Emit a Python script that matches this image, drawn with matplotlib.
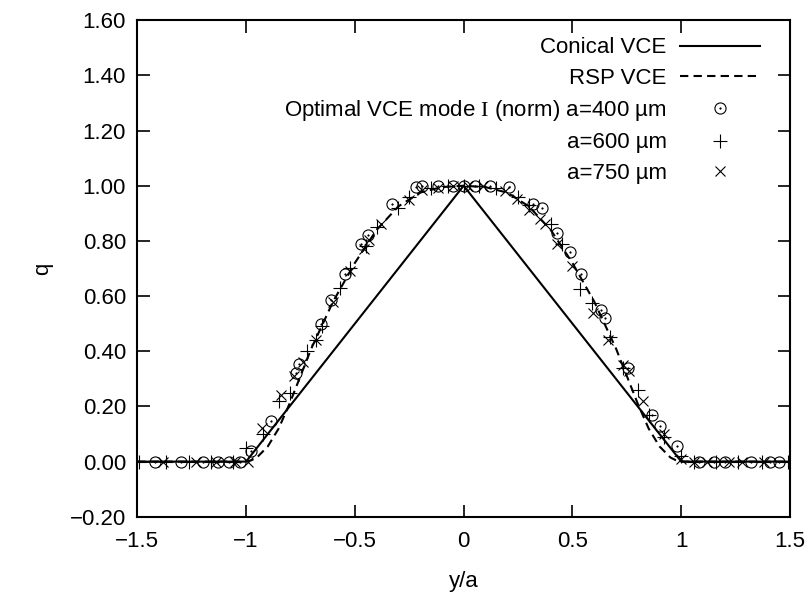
import matplotlib
matplotlib.use('Agg')
import matplotlib.pyplot as plt

plt.rcParams['font.family'] = ['Liberation Sans', 'DejaVu Sans']
plt.rcParams['mathtext.fontset'] = 'custom'
plt.rcParams['mathtext.rm'] = 'Liberation Serif'
plt.rcParams['axes.unicode_minus'] = True

# Conical VCE (triangle)
con_x = [-1.5, -1.0, 0.0, 1.0, 1.5]
con_q = [0.0, 0.0, 1.0, 0.0, 0.0]

# RSP VCE (dashed)
rsp_x = [-1.5, -1.0, -0.975, -0.95, -0.9, -0.85, -0.8, -0.75, -0.7, -0.6, -0.5, -0.4,
         -0.3, -0.2, -0.1, 0.0, 0.1, 0.2, 0.3, 0.4, 0.5, 0.6, 0.7, 0.75, 0.8, 0.85,
         0.9, 0.95, 0.975, 1.0, 1.5]
rsp_q = [0.0, 0.0, 0.005, 0.015, 0.055, 0.12, 0.21, 0.31, 0.41, 0.58, 0.72, 0.84,
         0.925, 0.975, 0.995, 1.0, 0.995, 0.975, 0.925, 0.84, 0.72, 0.58, 0.41, 0.31,
         0.21, 0.12, 0.055, 0.015, 0.005, 0.0, 0.0]

# Optimal VCE, a=400 um (circles)
a400_x = [-1.42, -1.30, -1.20, -1.13, -1.08, -1.03, -0.977, -0.885, -0.77, -0.756,
          -0.654, -0.61, -0.544, -0.47, -0.44, -0.33, -0.217, -0.19, -0.12, -0.05,
          0.0, 0.05, 0.12, 0.21, 0.32, 0.36, 0.43, 0.49, 0.54, 0.63, 0.65, 0.755,
          0.866, 0.90, 0.98, 1.08, 1.15, 1.20, 1.32, 1.41, 1.45]
a400_q = [0.0, 0.0, 0.0, 0.0, 0.0, 0.0, 0.04, 0.148, 0.32, 0.354,
          0.50, 0.585, 0.68, 0.79, 0.82, 0.935, 0.996, 1.0, 1.0, 1.0,
          1.0, 1.0, 1.0, 0.996, 0.935, 0.92, 0.83, 0.76, 0.68, 0.55, 0.52, 0.34,
          0.17, 0.13, 0.058, 0.0, 0.0, 0.0, 0.0, 0.0, 0.0]

# Optimal VCE, a=600 um (plus)
a600_x = [-1.49, -1.37, -1.26, -1.16, -1.06, -1.00, -0.92, -0.85, -0.80, -0.72,
          -0.68, -0.65, -0.57, -0.52, -0.45, -0.40, -0.30, -0.25, -0.15, -0.07,
          0.0, 0.07, 0.15, 0.25, 0.30, 0.40, 0.45, 0.535, 0.59, 0.673, 0.733,
          0.80, 0.85, 0.92, 1.00, 1.06, 1.16, 1.26, 1.37, 1.49]
a600_q = [0.0, 0.0, 0.0, 0.0, 0.0, 0.05, 0.10, 0.22, 0.25, 0.40,
          0.44, 0.49, 0.63, 0.70, 0.78, 0.85, 0.92, 0.96, 0.99, 1.0,
          1.0, 1.0, 0.99, 0.96, 0.93, 0.86, 0.79, 0.625, 0.575, 0.45, 0.34,
          0.26, 0.17, 0.09, 0.02, 0.0, 0.0, 0.0, 0.0, 0.0]

# Optimal VCE, a=750 um (cross)
a750_x = [-1.38, -1.23, -1.14, -1.05, -0.99, -0.925, -0.84, -0.78, -0.74, -0.68,
          -0.60, -0.52, -0.46, -0.433, -0.378, -0.25, -0.19, -0.12, -0.05, 0.02,
          0.09, 0.19, 0.244, 0.30, 0.35, 0.373, 0.43, 0.50, 0.595, 0.664, 0.73,
          0.76, 0.825, 0.92, 1.00, 1.06, 1.12, 1.22, 1.28, 1.38]
a750_q = [0.0, 0.0, 0.0, 0.0, 0.0, 0.12, 0.24, 0.31, 0.36, 0.44,
          0.58, 0.69, 0.77, 0.805, 0.86, 0.95, 0.985, 0.99, 1.0, 1.0,
          1.0, 0.98, 0.953, 0.913, 0.88, 0.86, 0.79, 0.71, 0.54, 0.44, 0.35,
          0.33, 0.22, 0.10, 0.01, 0.0, 0.0, 0.0, 0.0, 0.0]

xticks = [-1.5, -1.0, -0.5, 0.0, 0.5, 1.0, 1.5]
xtick_labels = ['\u22121.5', '\u22121', '\u22120.5', '0', '0.5', '1', '1.5']
yticks = [-0.2, 0.0, 0.2, 0.4, 0.6, 0.8, 1.0, 1.2, 1.4, 1.6]

fig = plt.figure(figsize=(8.12, 5.94), dpi=100)
ax = fig.add_axes([0.169, 0.130, 0.804, 0.836])

l_con, = ax.plot(con_x, con_q, color='black', lw=1.5, label='Conical VCE')
l_rsp, = ax.plot(rsp_x, rsp_q, color='black', lw=1.5, ls=(0, (4, 2.5)), label='RSP VCE')
m400, = ax.plot(a400_x, a400_q, ls='none', marker='o', ms=8, mfc='none',
                mec='black', mew=0.8, zorder=3)
d400, = ax.plot(a400_x, a400_q, ls='none', marker='o', ms=1.2, mfc='black',
                mec='black', mew=0.3, zorder=3)
m600, = ax.plot(a600_x, a600_q, ls='none', marker='+', ms=10, mec='black', mew=0.8, zorder=3)
m750, = ax.plot(a750_x, a750_q, ls='none', marker='x', ms=7.5, mec='black', mew=0.8, zorder=3)

ax.set_xlim(-1.5, 1.5)
ax.set_ylim(-0.2, 1.6)
ax.set_xticks(xticks)
ax.set_xticklabels(xtick_labels)
ax.set_yticks(yticks)
ax.set_yticklabels(['%.2f' % v if v >= 0 else '\u2212%.2f' % -v for v in yticks])
ax.tick_params(direction='in', top=True, right=True, length=9, width=1.2,
               labelsize=16, pad=8)
ax.tick_params(axis='x', pad=10)
for s in ax.spines.values():
    s.set_linewidth(1.5)

ax.set_xlabel('y/a', fontsize=16, labelpad=14)
ax.set_ylabel('q', fontsize=16, labelpad=12)

handles = [l_con, l_rsp, (m400, d400), m600, m750]
labels = ['Conical VCE', 'RSP VCE',
          r'Optimal VCE mode $\mathrm{I}$ (norm) a=400 µm',
          'a=600 µm', 'a=750 µm']
ax.legend(handles, labels, loc='upper right', bbox_to_anchor=(0.936, 0.937),
          bbox_transform=fig.transFigure, frameon=False, markerfirst=False,
          numpoints=1, fontsize=16, handlelength=3.6, handletextpad=0.6,
          labelspacing=0.42, borderpad=0, borderaxespad=0)

fig.savefig('out.png', dpi=100)
